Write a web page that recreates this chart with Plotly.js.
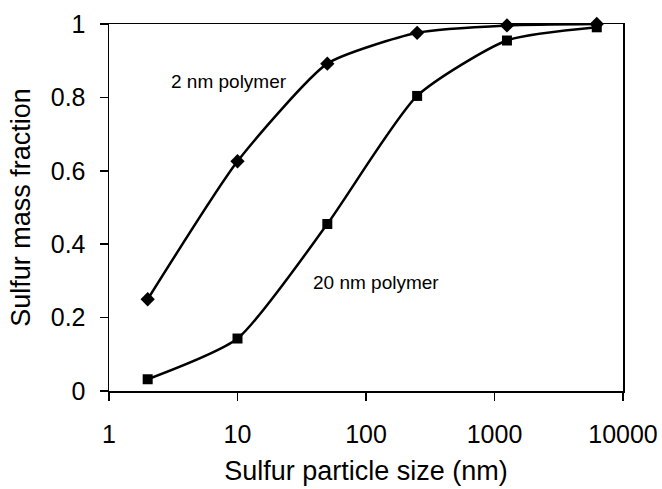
<!DOCTYPE html>
<html>
<head>
<meta charset="utf-8">
<script src="https://cdn.plot.ly/plotly-3.0.1.min.js"></script>
<style>html,body{margin:0;padding:0;background:#fff;}#chart{width:662px;height:489px;}</style>
</head>
<body>
<div id="chart"></div>
<script>
const particleSize = [2, 10, 50, 250, 1250, 6250];
const fraction2nm = [0.25, 0.626, 0.892, 0.976, 0.996, 1.0];
const fraction20nm = [0.032, 0.143, 0.455, 0.804, 0.955, 0.991];
const seriesNames = ["2 nm polymer", "20 nm polymer"];
const xTickVals = [1, 10, 100, 1000, 10000];
const xTickText = ["1", "10", "100", "1000", "10000"];
const yTickVals = [0, 0.2, 0.4, 0.6, 0.8, 1];
const yTickText = ["0", "0.2", "0.4", "0.6", "0.8", "1"];

const font = "Liberation Sans, Arial, sans-serif";

const traces = [
  {
    x: particleSize, y: fraction2nm, name: seriesNames[0],
    type: "scatter", mode: "lines+markers",
    line: {color: "#000", width: 2.5, shape: "spline", smoothing: 0.55},
    marker: {symbol: "diamond", size: 11, color: "#000"},
    cliponaxis: false
  },
  {
    x: particleSize, y: fraction20nm, name: seriesNames[1],
    type: "scatter", mode: "lines+markers",
    line: {color: "#000", width: 2.5, shape: "spline", smoothing: 0.6},
    marker: {symbol: "square", size: 10, color: "#000"},
    cliponaxis: false
  }
];

const layout = {
  width: 662, height: 489,
  margin: {l: 109, r: 39, t: 24, b: 98},
  paper_bgcolor: "#fff", plot_bgcolor: "#fff",
  showlegend: false,
  font: {family: font, color: "#000", size: 25},
  xaxis: {
    type: "log", range: [0, 4],
    tickvals: xTickVals, ticktext: xTickText,
    ticks: "outside", ticklen: 8, tickwidth: 1.5, tickcolor: "#000",
    showline: true, linecolor: "#000", linewidth: 1.5, mirror: true,
    showgrid: false, zeroline: false,
    tickfont: {size: 25},
    ticklabelstandoff: 12,
    title: {text: "Sulfur particle size (nm)", font: {size: 27}, standoff: 14}
  },
  yaxis: {
    range: [0, 1],
    tickvals: yTickVals, ticktext: yTickText,
    ticks: "outside", ticklen: 8, tickwidth: 1.5, tickcolor: "#000",
    showline: true, linecolor: "#000", linewidth: 1.5, mirror: true,
    showgrid: false, zeroline: false,
    tickfont: {size: 25},
    ticklabelstandoff: 9,
    title: {text: "Sulfur mass fraction", font: {size: 27}, standoff: 12}
  },
  annotations: [
    {x: Math.log10(8.6), y: 0.842, xref: "x", yref: "y", text: seriesNames[0], showarrow: false,
     font: {size: 19, family: font, color: "#000"}},
    {x: Math.log10(120), y: 0.295, xref: "x", yref: "y", text: seriesNames[1], showarrow: false,
     font: {size: 19, family: font, color: "#000"}}
  ]
};

Plotly.newPlot("chart", traces, layout, {displayModeBar: false, staticPlot: true});
</script>
</body>
</html>
